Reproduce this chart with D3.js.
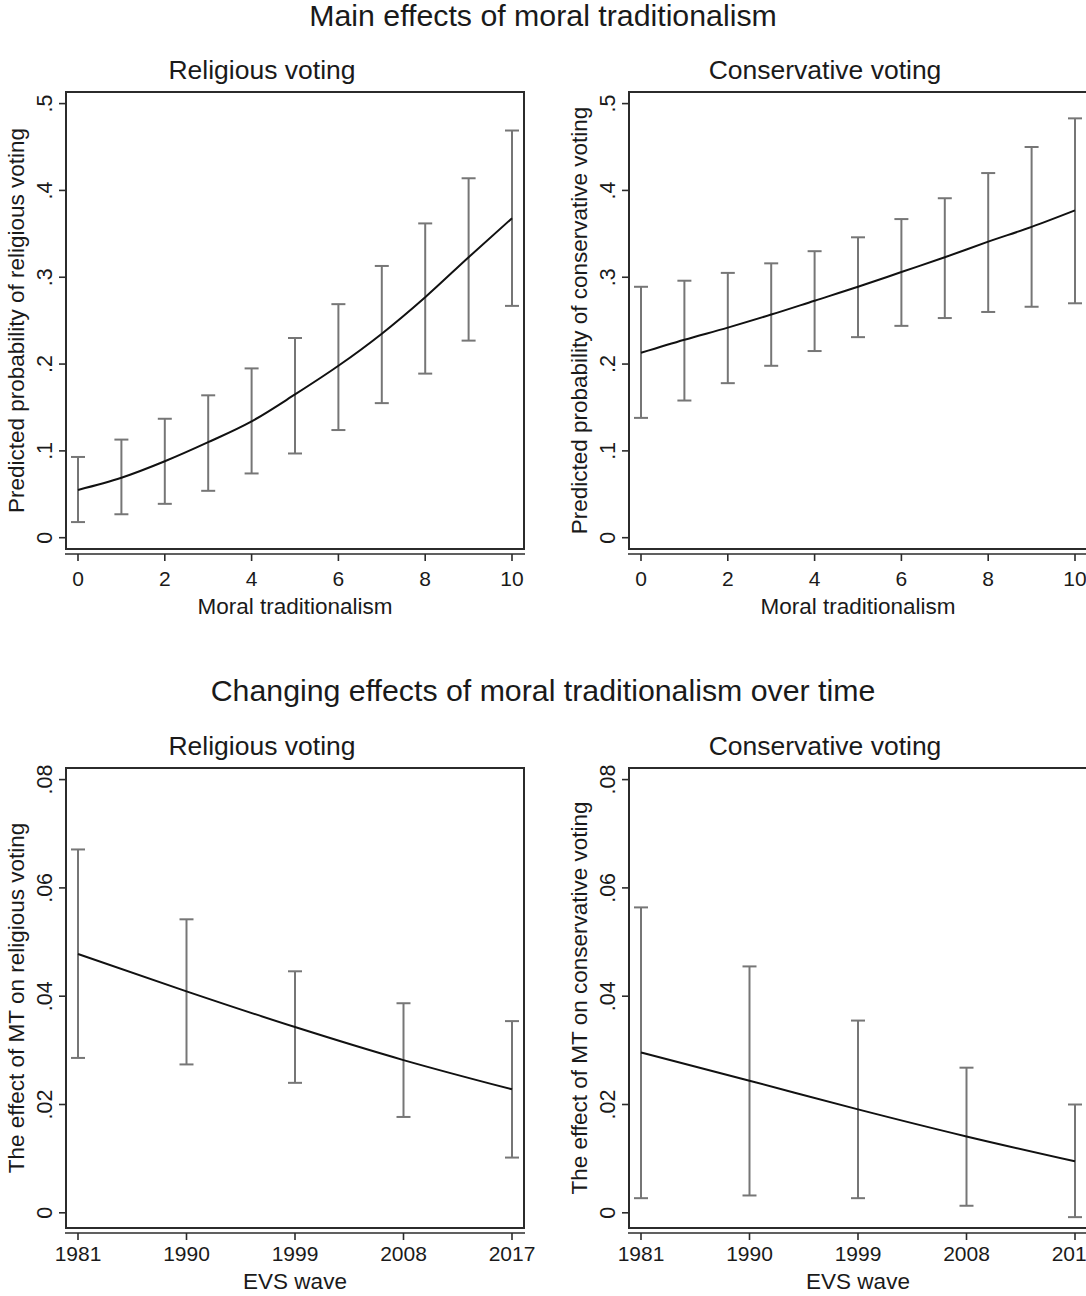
<!DOCTYPE html>
<html>
  <head>
    <style>
      body {
        margin: 0;
        background: #fff;
        font-family: "Liberation Sans", Arial, sans-serif;
      }
      text { fill: #1a1a1a; }
      .box { fill: none; stroke: #2b2b2b; stroke-width: 2px; }
      .axis-line, .tick { stroke: #2b2b2b; stroke-width: 1.6px; }
      .ci { stroke: #767676; stroke-width: 2px; fill: none; }
      .est { fill: none; stroke: #111; stroke-width: 2px; }
    </style>
  </head>
  <body>
    <script src="https://d3js.org/d3.v7.min.js"></script>
    <script>
      // values
      var mtLevels = [0, 1, 2, 3, 4, 5, 6, 7, 8, 9, 10];
      var relProb = [0.055, 0.069, 0.088, 0.110, 0.134, 0.165, 0.198, 0.235, 0.277, 0.323, 0.368];
      var relLo   = [0.018, 0.027, 0.039, 0.054, 0.074, 0.097, 0.124, 0.155, 0.189, 0.227, 0.267];
      var relHi   = [0.093, 0.113, 0.137, 0.164, 0.195, 0.230, 0.269, 0.313, 0.362, 0.414, 0.469];
      var conProb = [0.213, 0.228, 0.242, 0.257, 0.273, 0.289, 0.306, 0.323, 0.341, 0.358, 0.377];
      var conLo   = [0.138, 0.158, 0.178, 0.198, 0.215, 0.231, 0.244, 0.253, 0.260, 0.266, 0.270];
      var conHi   = [0.289, 0.296, 0.305, 0.316, 0.330, 0.346, 0.367, 0.391, 0.420, 0.450, 0.483];

      var waves = [1981, 1990, 1999, 2008, 2017];
      var relEff   = [0.0478, 0.0409, 0.0343, 0.0282, 0.0228];
      var relEffLo = [0.0286, 0.0274, 0.0240, 0.0177, 0.0102];
      var relEffHi = [0.0671, 0.0542, 0.0446, 0.0387, 0.0354];
      var conEff   = [0.0296, 0.0244, 0.0191, 0.0141, 0.0095];
      var conEffLo = [0.0027, 0.0032, 0.0027, 0.0013, -0.0008];
      var conEffHi = [0.0564, 0.0455, 0.0355, 0.0268, 0.0200];

      var mtTicks = [0, 2, 4, 6, 8, 10];
      var probTicks = [0, 0.1, 0.2, 0.3, 0.4, 0.5];
      var probTickLabels = ["0", ".1", ".2", ".3", ".4", ".5"];
      var effTicks = [0, 0.02, 0.04, 0.06, 0.08];
      var effTickLabels = ["0", ".02", ".04", ".06", ".08"];

      var svg = d3.select("body").append("svg")
        .attr("width", 1086)
        .attr("height", 1296);

      // one stata-ish subgraph; dx shifts the whole thing right
      function panel(p) {
        var g = svg.append("g").attr("transform", "translate(" + p.dx + ",0)");
        var boxL = 66, boxR = 524;
        var x = d3.scaleLinear().domain(p.xDomain).range([boxL + 12, boxR - 12]);
        var y = d3.scaleLinear().domain(p.yDomain).range(p.yRange);

        g.append("rect").attr("class", "box")
          .attr("x", boxL).attr("y", p.boxTop)
          .attr("width", boxR - boxL).attr("height", p.boxBottom - p.boxTop);

        // y ticks + rotated labels
        g.selectAll(".ytick").data(p.yTicks).enter().append("line")
          .attr("class", "tick")
          .attr("x1", boxL - 7).attr("x2", boxL)
          .attr("y1", d => y(d)).attr("y2", d => y(d));
        g.selectAll(".ylab").data(p.yTicks).enter().append("text")
          .attr("transform", d => "translate(" + (boxL - 14.5) + "," + y(d) + ") rotate(-90)")
          .attr("text-anchor", "middle")
          .style("font-size", "21.5px")
          .text((d, i) => p.yTickLabels[i]);

        // x axis sits a little under the box
        var ax = p.boxBottom + 5;
        g.append("line").attr("class", "axis-line")
          .attr("x1", boxL - 1).attr("x2", boxR + 1)
          .attr("y1", ax).attr("y2", ax);
        g.selectAll(".xtick").data(p.xTicks).enter().append("line")
          .attr("class", "tick")
          .attr("x1", d => x(d)).attr("x2", d => x(d))
          .attr("y1", ax).attr("y2", ax + 7);
        g.selectAll(".xlab").data(p.xTicks).enter().append("text")
          .attr("x", d => x(d)).attr("y", ax + p.labOff)
          .attr("text-anchor", "middle")
          .style("font-size", "21px")
          .text(d => d);

        // titles
        g.append("text").attr("x", (boxL + boxR) / 2).attr("y", ax + p.titleOff)
          .attr("text-anchor", "middle").style("font-size", "22.5px")
          .text(p.xTitle);
        g.append("text")
          .attr("transform", "translate(" + (boxL - 42.5) + "," + ((p.boxTop + p.boxBottom) / 2) + ") rotate(-90)")
          .attr("text-anchor", "middle").style("font-size", "22.5px")
          .text(p.yTitle);
        g.append("text").attr("x", 262).attr("y", p.subY)
          .attr("text-anchor", "middle").style("font-size", "26.5px")
          .text(p.subtitle);

        // error bars with caps
        var rows = p.xs.map((v, i) => ({x: v, est: p.est[i], lo: p.lo[i], hi: p.hi[i]}));
        var bars = g.selectAll(".bar").data(rows).enter().append("g");
        bars.append("line").attr("class", "ci")
          .attr("x1", d => x(d.x)).attr("x2", d => x(d.x))
          .attr("y1", d => y(d.lo)).attr("y2", d => y(d.hi));
        bars.append("line").attr("class", "ci")
          .attr("x1", d => x(d.x) - 7).attr("x2", d => x(d.x) + 7)
          .attr("y1", d => y(d.lo)).attr("y2", d => y(d.lo));
        bars.append("line").attr("class", "ci")
          .attr("x1", d => x(d.x) - 7).attr("x2", d => x(d.x) + 7)
          .attr("y1", d => y(d.hi)).attr("y2", d => y(d.hi));

        var line = d3.line()
          .x(d => x(d.x))
          .y(d => y(d.est))
          .curve(d3.curveMonotoneX);
        g.append("path").attr("class", "est").datum(rows).attr("d", line);
      }

      // main titles
      svg.append("text").attr("x", 543).attr("y", 26)
        .attr("text-anchor", "middle").style("font-size", "30.3px")
        .text("Main effects of moral traditionalism");
      svg.append("text").attr("x", 543).attr("y", 701)
        .attr("text-anchor", "middle").style("font-size", "30.3px")
        .text("Changing effects of moral traditionalism over time");

      var topCfg = {boxTop: 92, boxBottom: 549, yDomain: [0, 0.5], yRange: [537.7, 103.6],
                 yTicks: probTicks, yTickLabels: probTickLabels, xDomain: [0, 10], xTicks: mtTicks,
                 xs: mtLevels, subY: 79, labOff: 32, titleOff: 59.5, xTitle: "Moral traditionalism"};
      panel(Object.assign({}, topCfg, {dx: 0, subtitle: "Religious voting",
        yTitle: "Predicted probability of religious voting", est: relProb, lo: relLo, hi: relHi}));
      panel(Object.assign({}, topCfg, {dx: 563, subtitle: "Conservative voting",
        yTitle: "Predicted probability of conservative voting", est: conProb, lo: conLo, hi: conHi}));

      var botCfg = {boxTop: 768, boxBottom: 1228, yDomain: [0, 0.08], yRange: [1212.8, 779.6],
                 yTicks: effTicks, yTickLabels: effTickLabels, xDomain: [1981, 2017], xTicks: waves,
                 xs: waves, subY: 755, labOff: 27.5, titleOff: 56, xTitle: "EVS wave"};
      panel(Object.assign({}, botCfg, {dx: 0, subtitle: "Religious voting",
        yTitle: "The effect of MT on religious voting", est: relEff, lo: relEffLo, hi: relEffHi}));
      panel(Object.assign({}, botCfg, {dx: 563, subtitle: "Conservative voting",
        yTitle: "The effect of MT on conservative voting", est: conEff, lo: conEffLo, hi: conEffHi}));
    </script>
  </body>
</html>
